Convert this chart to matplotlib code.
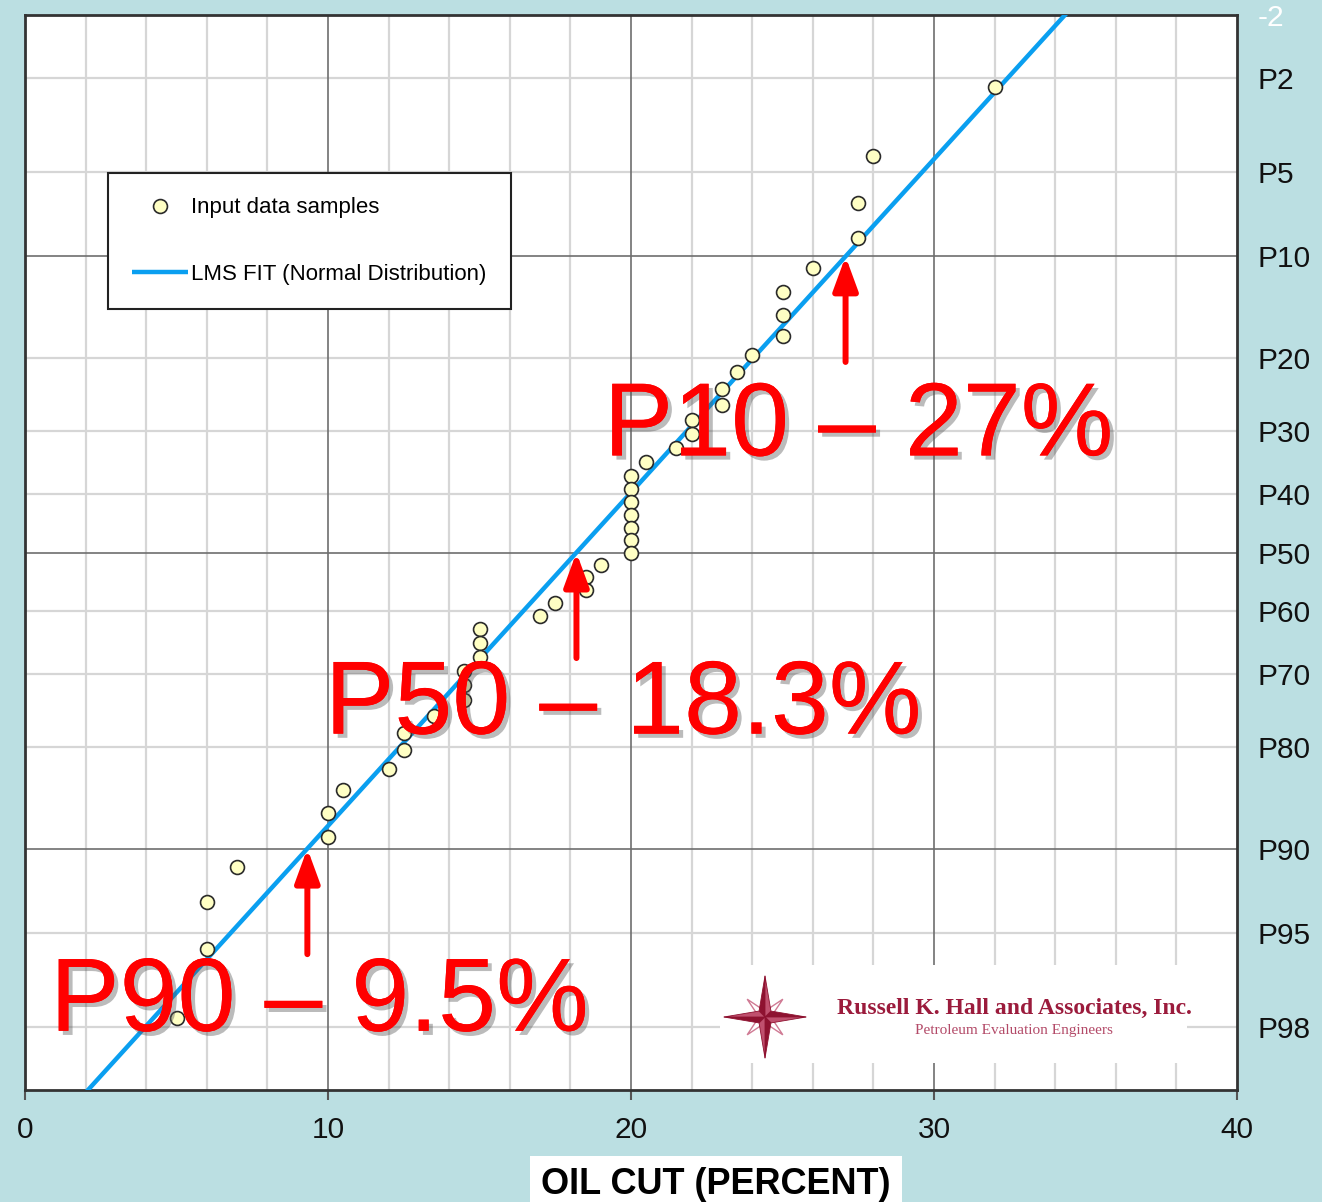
import matplotlib.pyplot as plt
import matplotlib.patheffects as pe
from matplotlib.patches import Rectangle, Polygon
from statistics import NormalDist
import numpy as np

plt.rcParams['font.family'] = ['Liberation Sans', 'DejaVu Sans']

# input data samples (oil cut, percent), highest first
oil_cut = [32, 28, 27.5, 27.5, 26, 25, 25, 25, 24, 23.5, 23, 23, 22, 22, 21.5, 20.5,
           20, 20, 20, 20, 20, 20, 20, 19, 18.5, 18.5, 17.5, 17, 15, 15, 15,
           14.5, 14.5, 14.5, 13.5, 12.5, 12.5, 12, 10.5, 10, 10, 7, 6, 6, 5]
# probability of exceedance for each sample (percent)
exceed_pct = [2.2, 4.3, 6.5, 8.7, 10.9, 13.0, 15.2, 17.4, 19.6, 21.7, 23.9, 26.1,
              28.3, 30.4, 32.6, 34.8, 37.0, 39.1, 41.3, 43.5, 45.7, 47.8, 50.0,
              52.2, 54.3, 56.5, 58.7, 60.9, 63.0, 65.2, 67.4, 69.6, 71.7, 73.9,
              76.1, 78.3, 80.4, 82.6, 84.8, 87.0, 89.1, 91.3, 93.5, 95.7, 97.8]

# LMS fit (normal distribution)
fit_mean = 18.2
fit_sd = 6.93

# y axis ticks (P values) and grid
p_ticks = [1, 2, 5, 10, 20, 30, 40, 50, 60, 70, 80, 90, 95, 98]
p_labels = ['-2', 'P2', 'P5', 'P10', 'P20', 'P30', 'P40', 'P50', 'P60', 'P70', 'P80',
            'P90', 'P95', 'P98']
p_major = [10, 50, 90]
x_ticks = [0, 10, 20, 30, 40]
x_minor = [2, 4, 6, 8, 12, 14, 16, 18, 22, 24, 26, 28, 32, 34, 36, 38]

# callouts
call_p = [10, 50, 90]
call_text = ['P10 \u2013 27%', 'P50 \u2013 18.3%', 'P90 \u2013 9.5%']

nd = NormalDist()


def zval(p):
    if np.ndim(p) == 0:
        return nd.inv_cdf(1 - p / 100.0)
    return np.array([nd.inv_cdf(1 - v / 100.0) for v in p])


bg = '#bbdfe2'
fig = plt.figure(figsize=(13.22, 12.02), dpi=100, facecolor=bg)
ax = fig.add_axes([25 / 1322, 112 / 1202, 1212 / 1322, 1075 / 1202])
ax.set_facecolor('white')

z_top = nd.inv_cdf(0.99)
ax.set_xlim(0, 40)
ax.set_ylim(-z_top, z_top)

# grid
for x in x_minor:
    ax.axvline(x, color='#d6d6d6', lw=1.6, zorder=0)
for x in x_ticks[1:-1]:
    ax.axvline(x, color='#6e6e6e', lw=1.2, zorder=0.5)
for p in p_ticks[1:]:
    if p in p_major:
        ax.axhline(zval(p), color='#6e6e6e', lw=1.2, zorder=0.5)
    else:
        ax.axhline(zval(p), color='#d6d6d6', lw=1.6, zorder=0)

# logo panel
ax.add_patch(Rectangle((0.5734, 0.0251), 0.385, 0.0912, transform=ax.transAxes,
                       facecolor='white', edgecolor='none', zorder=1))

# fit line
zz = np.array([-3.0, 3.0])
ax.plot(fit_mean + zz * fit_sd, zz, color='#0a9ff0', lw=3.2, zorder=3,
        label='LMS FIT (Normal Distribution)', solid_capstyle='butt')

# data samples
ax.plot(oil_cut, zval(exceed_pct), 'o', ms=10, mfc='#ffffc4', mec='#2a2a2a', mew=1.2,
        zorder=4, label='Input data samples')

# callouts
shadow = [pe.withSimplePatchShadow(offset=(3, -3), shadow_rgbFace='#555555', alpha=0.4),
          pe.Normal()]
text_pos = [(19.1, 0.42), (9.9, -0.784), (0.83, -2.07)]
for p, t, (tx, ty) in zip(call_p, call_text, text_pos):
    zq = zval(p)
    q = fit_mean + zq * fit_sd
    ax.annotate('', xy=(q, zq), xytext=(0, -76), textcoords='offset points',
                arrowprops=dict(arrowstyle='-|>,head_length=0.6,head_width=0.22',
                                color='red', lw=4.3, mutation_scale=34,
                                shrinkA=0, shrinkB=0), zorder=5)
    ax.text(tx, ty, t, color='red', fontsize=75, va='baseline', ha='left',
            zorder=6, path_effects=shadow)

# legend
h, l = ax.get_legend_handles_labels()
leg = ax.legend(h[::-1], l[::-1], loc='upper left', bbox_to_anchor=(108 / 1322, 1 - 173 / 1202),
                bbox_transform=fig.transFigure, fontsize=16, frameon=True, fancybox=False,
                edgecolor='#222222', framealpha=1, borderpad=1.1, labelspacing=2.05,
                handlelength=2.5, handletextpad=0.15, borderaxespad=0)
leg.get_frame().set_linewidth(1.5)
leg.set_zorder(7)

# axes styling
for s in ax.spines.values():
    s.set_color('#333333')
    s.set_linewidth(2)
ax.set_xticks(x_ticks)
ax.tick_params(axis='x', length=7, width=1.5, color='#555555', labelsize=21.5, pad=12)
ax.yaxis.tick_right()
ax.set_yticks(zval(p_ticks), p_labels)
ax.tick_params(axis='y', length=0, labelsize=21.5, pad=15)
ax.get_yticklabels()[0].set_color('white')
for lab in ax.get_xticklabels() + ax.get_yticklabels()[1:]:
    lab.set_color('#111111')

fig.text(716 / 1322, 8 / 1202, 'OIL CUT (PERCENT)', ha='center', va='baseline',
         fontsize=26, fontweight='bold', color='black',
         bbox=dict(boxstyle='square,pad=0.3', facecolor='white', edgecolor='none'))

# logo
fig.text(1014 / 1322, 1 - 1014 / 1202, 'Russell K. Hall and Associates, Inc.',
         family='Liberation Serif', fontweight='bold', fontsize=17, color='#9b1b3c',
         ha='center', va='baseline')
fig.text(1014 / 1322, 1 - 1034 / 1202, 'Petroleum Evaluation Engineers',
         family='Liberation Serif', fontsize=11, color='#b34a68', ha='center', va='baseline')

star = fig.add_axes([(765 - 42) / 1322, 1 - (1017 + 42) / 1202, 84 / 1322, 84 / 1202])
star.set_xlim(-1, 1)
star.set_ylim(-1, 1)
star.axis('off')
for a in np.deg2rad([45, 135, 225, 315]):
    pts = [(0.14 * np.cos(a - 0.8), 0.14 * np.sin(a - 0.8)),
           (0.6 * np.cos(a), 0.6 * np.sin(a)),
           (0.14 * np.cos(a + 0.8), 0.14 * np.sin(a + 0.8))]
    star.add_patch(Polygon(pts, closed=True, facecolor='white', edgecolor='#d07a94', lw=1))
for a in np.deg2rad([0, 90, 180, 270]):
    tip = (0.98 * np.cos(a), 0.98 * np.sin(a))
    l1 = (0.2 * np.cos(a + np.pi / 4), 0.2 * np.sin(a + np.pi / 4))
    l2 = (0.2 * np.cos(a - np.pi / 4), 0.2 * np.sin(a - np.pi / 4))
    star.add_patch(Polygon([(0, 0), l1, tip], closed=True, facecolor='#8e1230', edgecolor='#8e1230', lw=0.6))
    star.add_patch(Polygon([(0, 0), l2, tip], closed=True, facecolor='#c0506e', edgecolor='#8e1230', lw=0.6))

fig.savefig('out.png', dpi=100, facecolor=bg)
